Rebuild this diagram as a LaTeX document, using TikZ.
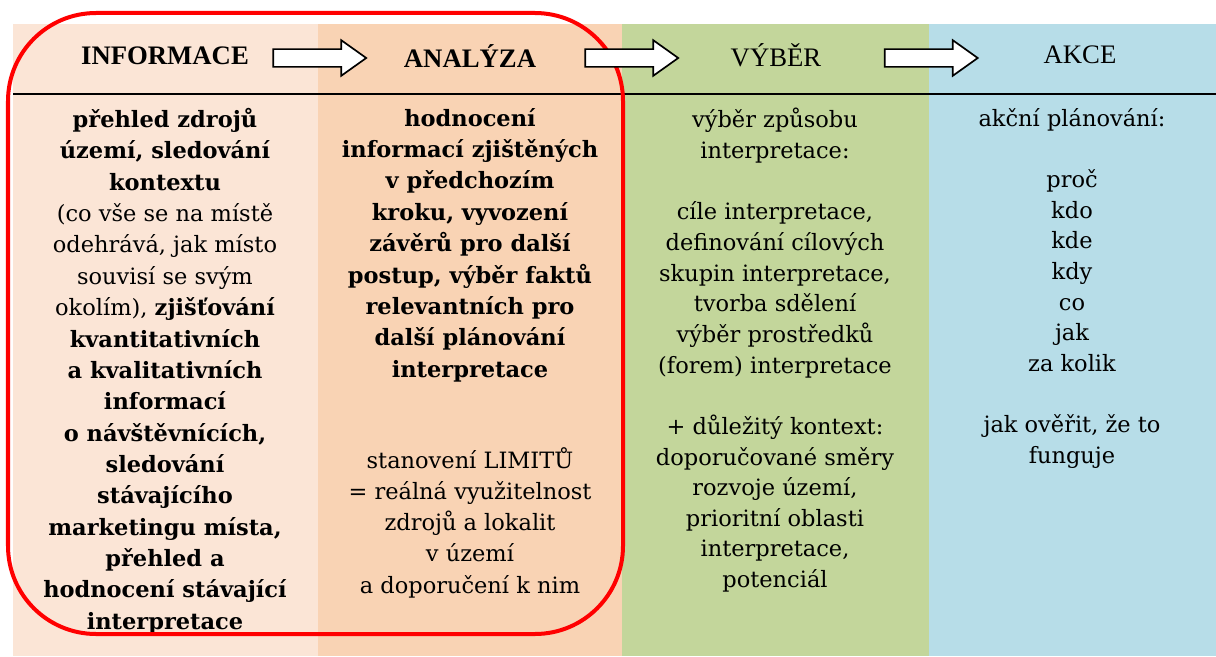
\documentclass[tikz,border=0pt]{standalone}
\usepackage{fontspec}
\setmainfont{DejaVu Serif}
\newfontfamily\headfont{Liberation Serif}
\usetikzlibrary{shapes.arrows}
\definecolor{infobg}{HTML}{FBE5D6}
\definecolor{analbg}{HTML}{F9D3B4}
\definecolor{vyberbg}{HTML}{C3D69B}
\definecolor{akcebg}{HTML}{B7DDE8}
\definecolor{loopred}{HTML}{FF0000}
\begin{document}
\begin{tikzpicture}[x=0.025cm, y=-0.025cm,
        heading/.style={font=\headfont\fontsize{19}{22}\selectfont},
        colbody/.style={anchor=north, align=center, inner sep=0pt, font=\fontsize{16}{21.8}\selectfont},
        boldbody/.style={colbody, font=\bfseries\fontsize{16}{22.3}\selectfont},
        flowarrow/.style={single arrow, draw, fill=white, line width=1.2pt, minimum height=2.325cm,
            single arrow head extend=0.225cm, single arrow tip angle=71,
            inner xsep=0pt, inner ysep=0.2cm, text height=0pt, text depth=0pt}]
                \useasboundingbox (0,0) rectangle (1216,657);
                \fill[infobg]  (13,24)  rectangle (318,656);
                \fill[analbg]  (318,24) rectangle (622,656);
                \fill[vyberbg] (622,24) rectangle (929,656);
                \fill[akcebg]  (929,24) rectangle (1216,656);
                \draw[line width=0.06cm] (13,94) -- (1216,94);
                \node[heading, font=\headfont\bfseries\fontsize{19}{22}\selectfont] (informace) at (165,56) {INFORMACE};
                \node[heading, font=\headfont\bfseries\fontsize{19}{22}\selectfont] (analyza) at (470,56) {ANALÝZA};
                \node[heading] (vyber) at (776,55) {VÝBĚR};
                \node[heading] (akce) at (1080,55) {AKCE};
                \node[colbody, font=\fontsize{16}{22.3}\selectfont] (infotext) at (165,108) {\bfseries přehled zdrojů\\ \bfseries území, sledování\\ \bfseries kontextu\\
                    (co vše se na místě\\ odehrává, jak místo\\ souvisí se svým\\ okolím), \textbf{zjišťování}\\
                    \bfseries kvantitativních\\ \bfseries a kvalitativních\\ \bfseries informací\\ \bfseries o návštěvnících,\\
                    \bfseries sledování\\ \bfseries stávajícího\\ \bfseries marketingu místa,\\ \bfseries přehled a\\
                    \bfseries hodnocení stávající\\ \bfseries interpretace};
                \node[boldbody] (analtext) at (470,108) {hodnocení\\ informací zjištěných\\ v předchozím\\ kroku, vyvození\\
                    závěrů pro další\\ postup, výběr faktů\\ relevantních pro\\ další plánování\\ interpretace};
                \node[colbody, font=\fontsize{16}{22.2}\selectfont] (limity) at (470,447) {stanovení LIMITŮ\\ = reálná využitelnost\\ zdrojů a lokalit\\ v území\\ a doporučení k nim};
                \node[colbody] (vybertext) at (775,108) {výběr způsobu\\ interpretace:\\[21.8pt] cíle interpretace,\\ definování cílových\\
                    skupin interpretace,\\ tvorba sdělení\\ výběr prostředků\\ (forem) interpretace\\[21.8pt]
                    + důležitý kontext:\\ doporučované směry\\ rozvoje území,\\ prioritní oblasti\\ interpretace,\\ potenciál};
                \node[colbody] (akcetext) at (1072,108) {akční plánování:\\[21.8pt] proč\\ kdo\\ kde\\ kdy\\ co\\ jak\\ za kolik\\[21.8pt]
                    jak ověřit, že to\\ funguje};
                \draw[loopred, line width=0.1cm, rounded corners=2.2cm] (8,13) rectangle (623,634);
                \node[flowarrow] (arr1) at (313.5,58) {};
                \node[flowarrow] (arr2) at (625.5,58) {};
                \node[flowarrow] (arr3) at (925,58) {};
            \end{tikzpicture}
\end{document}
